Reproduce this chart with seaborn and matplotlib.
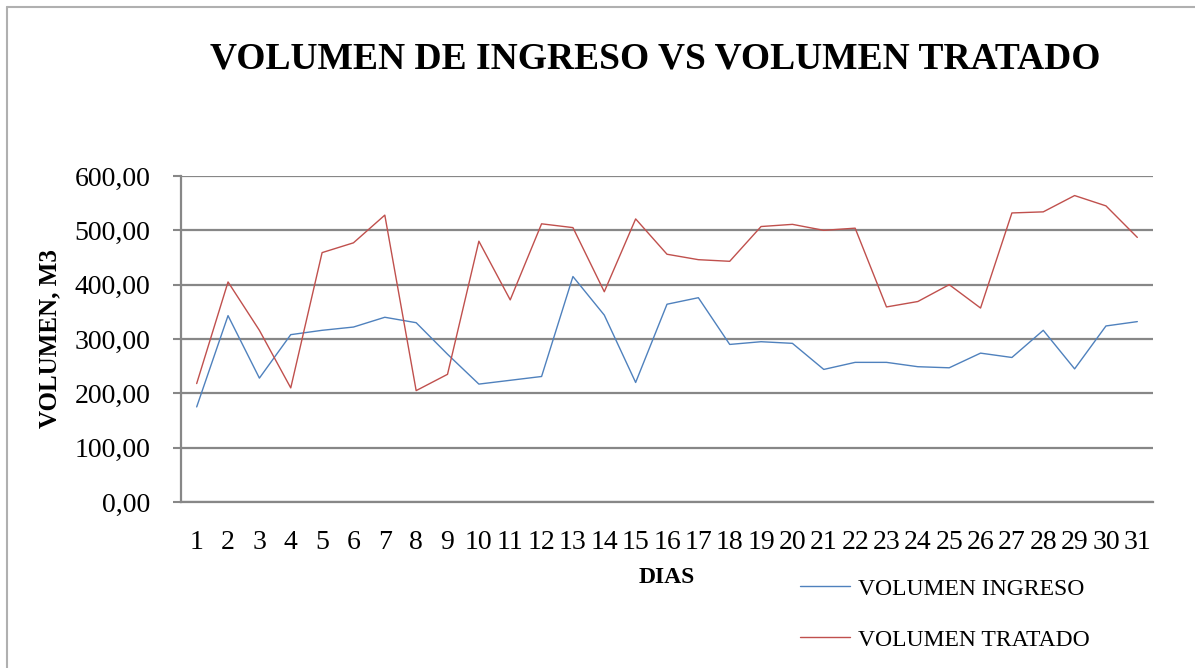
import numpy as np
import pandas as pd
import matplotlib
matplotlib.use("Agg")
import matplotlib.pyplot as plt
from matplotlib.lines import Line2D
import seaborn as sns

# ---------------------------- data ----------------------------#
dias = list(range(1, 32))
volumen_ingreso = [175, 343, 228, 308, 316, 322, 340, 330, 272, 217,
                   224, 231, 415, 344, 220, 364, 376, 290, 295, 292,
                   244, 257, 257, 249, 247, 274, 266, 316, 245, 324, 332]
volumen_tratado = [218, 405, 316, 210, 459, 477, 528, 205, 235, 480,
                   372, 512, 505, 387, 521, 456, 446, 443, 507, 511,
                   500, 504, 359, 369, 400, 357, 532, 534, 564, 545, 487]
series_names = ["VOLUMEN INGRESO", "VOLUMEN TRATADO"]
yticks = [0, 100, 200, 300, 400, 500, 600]

df = pd.DataFrame({
    "dia": dias * 2,
    "volumen": volumen_ingreso + volumen_tratado,
    "serie": [series_names[0]] * len(dias) + [series_names[1]] * len(dias),
})

# ---------------------------- style ----------------------------#
sns.set_style("white")
plt.rcParams["font.family"] = ["Liberation Serif", "DejaVu Serif"]
plt.rcParams["text.color"] = "black"
plt.rcParams["xtick.color"] = "black"
plt.rcParams["ytick.color"] = "black"
plt.rcParams["axes.labelcolor"] = "black"
colors = {series_names[0]: "#4F81BD", series_names[1]: "#C0504D"}
grid_c = "#878787"

fig = plt.figure(figsize=(11.95, 6.68), dpi=100)
W, H = 1195, 668
ax = fig.add_axes([181 / W, 1 - 502 / H, (1153 - 181) / W, (502 - 176) / H])

sns.lineplot(data=df, x="dia", y="volumen", hue="serie", palette=colors,
             linewidth=1.0, ax=ax, legend=False)

ax.set_xlim(0.5, 31.5)
ax.set_ylim(0, 600)
ax.set_yticks(yticks)
ax.set_yticklabels([f"{v:.2f}".replace(".", ",") for v in yticks], fontsize=20)
ax.set_xticks(dias)
ax.set_xticklabels([str(d) for d in dias], fontsize=20)
ax.tick_params(axis="y", length=6, width=1.5, color=grid_c, pad=16, direction="out", left=True)
ax.tick_params(axis="x", length=0, pad=20)
ax.grid(axis="y", color=grid_c, linewidth=1.6)
ax.set_axisbelow(True)
for s in ["top", "right"]:
    ax.spines[s].set_visible(False)
for s in ["left", "bottom"]:
    ax.spines[s].set_color(grid_c)
    ax.spines[s].set_linewidth(1.6)

ax.set_xlabel("DIAS", fontsize=17, fontweight="bold")
ax.xaxis.set_label_coords(0.5, -(567 - 502) / 326)
ax.xaxis.label.set_va("top")
ax.set_ylabel("VOLUMEN, M3", fontsize=18, fontweight="bold")
ax.yaxis.set_label_coords((61 - 181) / 972, 0.5)

fig.text(655 / W, 1 - 59 / H, "VOLUMEN DE INGRESO VS VOLUMEN TRATADO",
         fontsize=27, fontweight="bold", ha="center", va="center")

handles = [Line2D([], [], color=colors[n], linewidth=1.0) for n in series_names]
fig.legend(handles, series_names, loc="upper left",
           bbox_to_anchor=(800 / W, 1 - 578 / H), frameon=False,
           fontsize=17, handlelength=2.1, handletextpad=0.35,
           labelspacing=1.25, borderpad=0, borderaxespad=0)

# border lines of the chart frame (top and left)
fig.add_artist(Line2D([7 / W, 1], [1 - 7 / H, 1 - 7 / H], color="#b0b0b0", linewidth=1.5))
fig.add_artist(Line2D([7 / W, 7 / W], [0, 1 - 7 / H], color="#b0b0b0", linewidth=1.5))

fig.savefig("out.png", dpi=100)
